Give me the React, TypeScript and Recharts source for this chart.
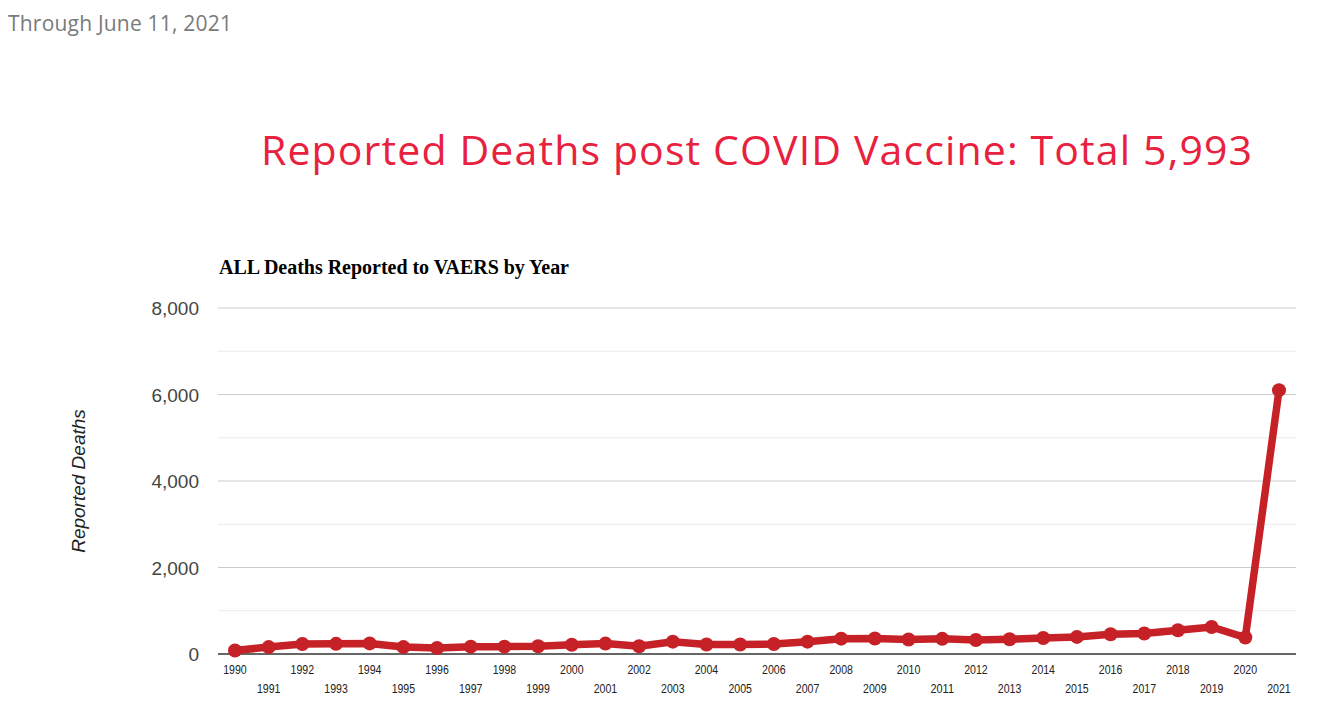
import React from "react";
import { LineChart, Line, XAxis, YAxis, ReferenceLine } from "recharts";

const years = [
  "1990","1991","1992","1993","1994","1995","1996","1997","1998","1999",
  "2000","2001","2002","2003","2004","2005","2006","2007","2008","2009",
  "2010","2011","2012","2013","2014","2015","2016","2017","2018","2019",
  "2020","2021",
];
const deaths = [
  80, 160, 230, 235, 245, 160, 140, 170, 170, 180,
  215, 240, 180, 285, 220, 220, 230, 285, 355, 360,
  335, 350, 325, 340, 370, 395, 455, 475, 550, 625,
  380, 6100,
];
const yTicks = [0, 2000, 4000, 6000, 8000];
const minorGrid = [1000, 3000, 5000, 7000];
const majorGrid = [2000, 4000, 6000, 8000];

const data = years.map((y, i) => ({ year: y, deaths: deaths[i] }));

const W = 1321;
const H = 721;

const XTick = (props: any) => {
  const { x, y, payload, index } = props;
  const odd = index % 2 === 1;
  return (
    <text
      x={x}
      y={y + (odd ? 31 : 12)}
      textAnchor="middle"
      fontFamily="Arial, 'Liberation Sans', sans-serif"
      fontSize={12.5}
      fill="#222"
      textLength={23.5}
      lengthAdjust="spacingAndGlyphs"
    >
      {payload.value}
    </text>
  );
};

const YTick = (props: any) => {
  const { y, payload } = props;
  return (
    <text
      x={199}
      y={y + 7}
      textAnchor="end"
      fontFamily="Arial, 'Liberation Sans', sans-serif"
      fontSize={19}
      fill="#444"
    >
      {payload.value.toLocaleString("en-US")}
    </text>
  );
};

export default function App() {
  return (
    <div style={{ position: "relative", width: W, height: H, background: "#fff" }}>
      <style>{`body{margin:0;}`}</style>
      <LineChart
        width={W}
        height={H}
        data={data}
        margin={{ top: 308, right: 25, bottom: 27, left: 158 }}
      >
        <XAxis
          dataKey="year"
          interval={0}
          axisLine={false}
          tickLine={false}
          tick={<XTick />}
          padding={{ left: 17, right: 17 }}
          height={40}
        />
        <YAxis
          width={60}
          domain={[0, 8000]}
          ticks={yTicks}
          axisLine={false}
          tickLine={false}
          tick={<YTick />}
        />
        {minorGrid.map((v) => (
          <ReferenceLine key={"m" + v} y={v} stroke="#ebebeb" strokeWidth={1} />
        ))}
        {majorGrid.map((v) => (
          <ReferenceLine key={"M" + v} y={v} stroke="#cccccc" strokeWidth={1} />
        ))}
        <ReferenceLine y={0} stroke="#666" strokeWidth={2} />
        <Line
          type="linear"
          dataKey="deaths"
          stroke="#c62127"
          strokeWidth={7.5}
          dot={{ r: 7, fill: "#c62127", stroke: "#c62127", strokeWidth: 0 }}
          activeDot={false}
          isAnimationActive={false}
        />
      </LineChart>
      <svg
        width={W}
        height={H}
        style={{ position: "absolute", left: 0, top: 0, pointerEvents: "none" }}
      >
        <text
          x={8}
          y={31}
          fontFamily="'Open Sans', sans-serif"
          fontSize={21}
          fill="#7a7a7a"
          textLength={224}
          lengthAdjust="spacing"
        >
          Through June 11, 2021
        </text>
        <text
          x={261}
          y={165}
          fontFamily="'Open Sans', sans-serif"
          fontSize={41}
          fill="#e8213f"
          textLength={991}
          lengthAdjust="spacing"
        >
          Reported Deaths post COVID Vaccine: Total 5,993
        </text>
        <text
          x={219}
          y={274}
          fontFamily="'Liberation Serif', 'Times New Roman', serif"
          fontWeight="bold"
          fontSize={20}
          fill="#000"
          textLength={350}
          lengthAdjust="spacing"
        >
          ALL Deaths Reported to VAERS by Year
        </text>
        <text
          transform="translate(85,481) rotate(-90)"
          textAnchor="middle"
          fontFamily="Arial, 'Liberation Sans', sans-serif"
          fontStyle="italic"
          fontSize={19}
          fill="#222"
        >
          Reported Deaths
        </text>
      </svg>
    </div>
  );
}
